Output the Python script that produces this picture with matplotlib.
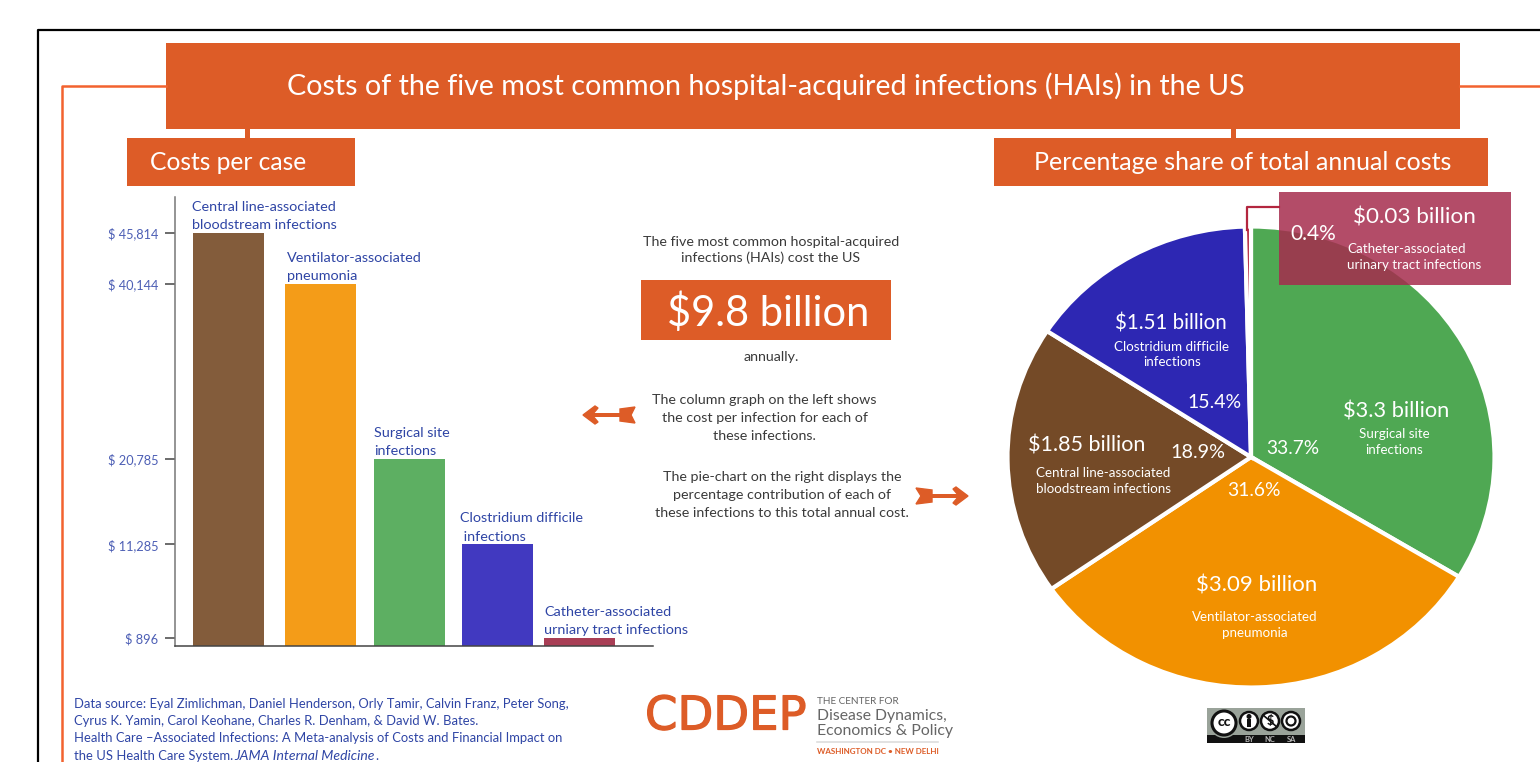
import matplotlib
matplotlib.use("Agg")
import matplotlib.patheffects as pe
import matplotlib.pyplot as plt
from matplotlib.patches import Circle, Polygon, Rectangle

plt.rcParams["font.family"] = ["Lato", "DejaVu Sans"]

W, H = 1540, 762

INFECTIONS = ["Central line-associated\nbloodstream infections", "Ventilator-associated\npneumonia",
              "Surgical site\ninfections", "Clostridium difficile\n infections",
              "Catheter-associated\nurniary tract infections"]
COST_PER_CASE = [45814, 40144, 20785, 11285, 896]
COST_LABELS = ["$ 45,814", "$ 40,144", "$ 20,785", "$ 11,285", "$ 896"]

SHARE_NAMES = ["Surgical site\ninfections", "Ventilator-associated\npneumonia",
               "Central line-associated\nbloodstream infections", "Clostridium difficile\ninfections",
               "Catheter-associated\nurinary tract infections"]
SHARE_PCT = [33.7, 31.6, 18.9, 15.4, 0.4]
SHARE_BILLIONS = ["$3.3 billion", "$3.09 billion", "$1.85 billion", "$1.51 billion", "$0.03 billion"]

ORANGE = "#DD5C27"
LINE_ORANGE = "#F2622F"
BLUE_TEXT = "#2F45A5"
TICK_BLUE = "#4D5FB5"
TXT = "#3A3A3A"
BAR_COLORS = ["#835C3B", "#F49C18", "#5DAF62", "#4139C0", "#A83E55"]
PIE_COLORS = ["#4FA853", "#F29100", "#744A27", "#2D27B3", "#B3263F"]

# bar centres and widths on the pixel-based x axis
BAR_X = [228.5, 320.5, 410, 497.5, 579.5]
BAR_W = 71


def px_axes(fig, left, top, right, bottom, **kw):
    return fig.add_axes([left / W, 1 - bottom / H, (right - left) / W, (bottom - top) / H], **kw)


def box(ax, x0, y0, x1, y1, color, **kw):
    ax.add_patch(Rectangle((x0, y0), x1 - x0, y1 - y0, facecolor=color, edgecolor="none", **kw))


fig = plt.figure(figsize=(W / 100, H / 100), dpi=100, facecolor="white")

# page layer, in pixel coordinates
page = fig.add_axes([0, 0, 1, 1], zorder=0)
page.set_xlim(0, W)
page.set_ylim(H, 0)
page.axis("off")

# black frame and thin orange rule
page.plot([38, 38, W], [H, 30, 30], color="black", lw=1.6)
page.plot([62, 62, 166], [H, 86, 86], color=LINE_ORANGE, lw=1.8)
page.plot([1460, W], [86, 86], color=LINE_ORANGE, lw=1.8)

# header bars
box(page, 166, 43, 1460, 129, ORANGE)
box(page, 127, 138, 355, 186, ORANGE)
box(page, 994, 138, 1488, 186, ORANGE)
box(page, 245, 129, 250, 138, ORANGE)
box(page, 1231, 129, 1236, 138, ORANGE)
page.text(766, 86, "Costs of the five most common hospital-acquired infections (HAIs) in the US",
          color="white", fontsize=20.6, ha="center", va="center")
page.text(228, 162.5, "Costs per case", color="white", fontsize=17.7, ha="center", va="center")
page.text(1243, 162.5, "Percentage share of total annual costs", color="white", fontsize=18,
          ha="center", va="center")

# middle text block
page.text(771, 250, "The five most common hospital-acquired\ninfections (HAIs) cost the US", color=TXT,
          fontsize=10.3, ha="center", va="center", linespacing=1.38)
box(page, 641, 280, 891, 340, ORANGE)
page.text(768.5, 312.5, "$9.8 billion", color="white", fontsize=30, ha="center", va="center")
page.text(771, 357, "annually.", color=TXT, fontsize=10.3, ha="center", va="center")
page.text(764.5, 418, "The column graph on the left shows\nthe cost per infection for each of\nthese infections.",
          color=TXT, fontsize=10.3, ha="center", va="center", linespacing=1.6)
page.text(782, 495, "The pie-chart on the right displays the\npercentage contribution of each of\nthese infections to this total annual cost.",
          color=TXT, fontsize=10.3, ha="center", va="center", linespacing=1.6)

# arrows between the text and the charts
box(page, 592, 413, 622, 417, ORANGE)
page.add_patch(Polygon([[583, 415], [595, 406], [598, 408], [592, 415], [598, 422], [595, 424]], color=ORANGE))
page.add_patch(Polygon([[620, 409], [635, 407], [631, 415], [635, 423], [620, 421]], color=ORANGE))
box(page, 930, 494, 960, 498, ORANGE)
page.add_patch(Polygon([[968, 496], [956, 487], [953, 489], [959, 496], [953, 503], [956, 505]], color=ORANGE))
page.add_patch(Polygon([[916, 488], [932, 490], [932, 502], [916, 504], [921, 496]], color=ORANGE))

# source note
for y, line in [(704, "Data source: Eyal Zimlichman, Daniel Henderson, Orly Tamir, Calvin Franz, Peter Song,"),
                (721, "Cyrus K. Yamin, Carol Keohane, Charles R. Denham, & David W. Bates."),
                (738, "Health Care \u2013Associated Infections: A Meta-analysis of Costs and Financial Impact on"),
                (756, "the US Health Care System.")]:
    page.text(74, y, line, color=BLUE_TEXT, fontsize=9.35, ha="left", va="center")
page.text(234, 756, "JAMA Internal Medicine", color=BLUE_TEXT, fontsize=10.1, style="italic", ha="left", va="center")
page.text(375.5, 756, ".", color=BLUE_TEXT, fontsize=9.35, ha="left", va="center")

# logo
page.text(645, 717, "CDDEP", color=ORANGE, fontsize=33.5, ha="left", va="center", family="Liberation Sans Narrow",
          path_effects=[pe.withStroke(linewidth=0.9, foreground=ORANGE)])
page.text(817, 702, "THE CENTER FOR", color="#666666", fontsize=7.2, ha="left", va="center")
page.text(817, 716, "Disease Dynamics,", color="#666666", fontsize=11.3, ha="left", va="center")
page.text(817, 731, "Economics & Policy", color="#666666", fontsize=11.4, ha="left", va="center")
page.plot([817, 938], [742, 742], color="#DDDDDD", lw=1.2)
page.text(817, 752, "WASHINGTON DC \u2022 NEW DELHI", color=ORANGE, fontsize=5.8, fontweight="bold",
          ha="left", va="center")

# Creative Commons badge
box(page, 1207, 708, 1305, 743, "#9AA39A")
box(page, 1207, 735, 1305, 743, "#111111")
page.add_patch(Circle((1224, 723), 15, facecolor="#9AA39A", edgecolor="none"))
page.add_patch(Circle((1224, 723), 12, facecolor="white", edgecolor="#111111", lw=2.2))
page.text(1224, 722.5, "cc", fontsize=10, fontweight="black", ha="center", va="center", color="#111111")
for x in [1249, 1270, 1291]:
    page.add_patch(Circle((x, 721), 9, facecolor="white", edgecolor="#111111", lw=1.8))
# BY figure, NC sign and SA arrow inside the small discs
page.add_patch(Circle((1249, 716.5), 1.8, color="#111111"))
box(page, 1247, 719, 1251, 727, "#111111")
page.text(1270, 720.5, "$", fontsize=9, fontweight="bold", ha="center", va="center", color="#111111")
page.plot([1263, 1277], [715, 727], color="#111111", lw=1.2)
page.add_patch(Circle((1291, 721), 4.5, facecolor="white", edgecolor="#111111", lw=1.6))
for x, s in [(1249, "BY"), (1270, "NC"), (1292, "SA")]:
    page.text(x, 739, s, fontsize=5.4, fontweight="bold", ha="center", va="center", color="#BBBBBB")

# column chart, y axis scaled so that $0 sits on the baseline
bars = px_axes(fig, 175, 197, 653, 646, zorder=2)
bars.patch.set_alpha(0)
bars.set_xlim(175, 653)
bars.set_ylim(0, 449 / 0.009016)
bars.bar(BAR_X, COST_PER_CASE, width=BAR_W, color=BAR_COLORS)
bars.set_xticks([])
bars.set_yticks(COST_PER_CASE)
bars.set_yticklabels(COST_LABELS, color=TICK_BLUE, fontsize=9.2)
bars.tick_params(axis="y", length=7.5, width=1.1, color="#444444", pad=4.5, direction="out")
for side in ["top", "right"]:
    bars.spines[side].set_visible(False)
bars.spines["left"].set_color("#777777")
bars.spines["left"].set_linewidth(1.1)
bars.spines["bottom"].set_color("#444444")
bars.spines["bottom"].set_linewidth(1.1)
label_x = [192, 287, 374, 460, 544]
for x, v, name in zip(label_x, COST_PER_CASE, INFECTIONS):
    bars.annotate(name, (x, v), xytext=(0, 1.2), textcoords="offset points", color=BLUE_TEXT,
                  fontsize=10.4, ha="left", va="bottom", linespacing=1.62)

# pie chart, a little wider than it is tall
pie_ax = px_axes(fig, 1007.5, 226.5, 1494.5, 687.5, zorder=2)
wedges, _ = pie_ax.pie(SHARE_PCT, colors=PIE_COLORS, startangle=90, counterclock=False, radius=1,
                       wedgeprops={"edgecolor": "white", "linewidth": 3, "clip_on": False})
pie_ax.set_aspect("auto")
pie_ax.set_xlim(-1, 1)
pie_ax.set_ylim(-1, 1)

# labels of the slices go on a layer above the pie
labels = fig.add_axes([0, 0, 1, 1], zorder=3)
labels.set_xlim(0, W)
labels.set_ylim(H, 0)
labels.axis("off")

# leader and semi-transparent callout for the smallest slice
labels.plot([1247, 1247, 1279], [230, 207, 207], color="#B3263F", lw=1.6)
box(labels, 1279, 192, 1511, 285, "#A62C4E", alpha=0.85)

PCT_POS = [(1293, 449), (1254, 490), (1198, 453), (1215, 403), (1313, 234)]
PCT_SIZE = [13.8, 13.9, 14.2, 14, 15]
AMOUNT_POS = [(1396, 411), (1256.5, 585), (1086.5, 445), (1170.5, 324), (1414.5, 217)]
AMOUNT_SIZE = [15.7, 16, 15.5, 14.8, 16.2]
NAME_POS = [(1394, 442), (1255, 625), (1103, 481), (1172, 354.5), (1414, 257)]
NAME_ALIGN = ["center", "center", "center", "center", "left"]
for i in range(5):
    labels.text(*PCT_POS[i], f"{SHARE_PCT[i]}%", color="white", fontsize=PCT_SIZE[i], ha="center", va="center")
    labels.text(*AMOUNT_POS[i], SHARE_BILLIONS[i], color="white", fontsize=AMOUNT_SIZE[i], ha="center", va="center")
    labels.text(*NAME_POS[i], SHARE_NAMES[i], color="white", fontsize=9.6, ha="center", va="center",
                linespacing=1.35, multialignment=NAME_ALIGN[i])

fig.savefig("out.png", dpi=100)
plt.close(fig)
